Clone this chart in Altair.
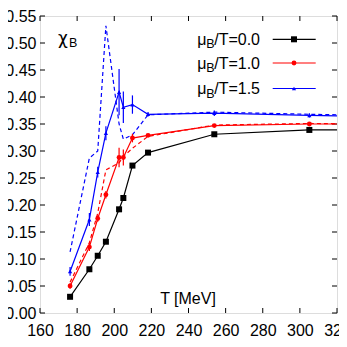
import altair as alt
import pandas as pd

# ---- data ----
T = [176.2, 186.6, 191.1, 195.5, 202.6, 204.9, 209.8, 218.2, 253.9, 305.1, 340.0]
chi_mu00 = [0.030, 0.081, 0.106, 0.132, 0.192, 0.213, 0.273, 0.297, 0.331, 0.339, 0.339]
err_mu00 = [0.002, 0.002, 0.002, 0.002, 0.003, 0.003, 0.003, 0.002, 0.002, 0.002, 0.002]
chi_mu10 = [0.050, 0.122, 0.175, 0.219, 0.288, 0.288, 0.324, 0.329, 0.347, 0.350, 0.350]
err_mu10 = [0.005, 0.007, 0.006, 0.007, 0.018, 0.015, 0.008, 0.003, 0.003, 0.003, 0.003]
chi_mu15 = [0.077, 0.173, 0.261, 0.333, 0.409, 0.381, 0.386, 0.368, 0.370, 0.366, 0.364]
err_mu15 = [0.008, 0.012, 0.010, 0.013, 0.043, 0.029, 0.017, 0.004, 0.005, 0.004, 0.004]
dash_mu10 = [0.057, 0.130, 0.185, 0.265, 0.278, 0.290, 0.305, 0.327, 0.348, 0.351, 0.350]
dash_mu15 = [0.113, 0.287, 0.300, 0.532, 0.350, 0.322, 0.330, 0.367, 0.372, 0.368, 0.366]

mu_labels = ["0.0", "1.0", "1.5"]
colors = ["#000000", "#ff0000", "#0000ff"]
shapes = ["square", "circle", "triangle-up"]
sizes = [36, 24, 18]

x_ticks = [160, 180, 200, 220, 240, 260, 280, 300, 320]
y_ticks = [0.00, 0.05, 0.10, 0.15, 0.20, 0.25, 0.30, 0.35, 0.40, 0.45, 0.50, 0.55]

FONT = "Liberation Sans"
W = 297
H = 297

xs = alt.Scale(domain=[160, 320], nice=False, zero=False)
ys = alt.Scale(domain=[0, 0.55], nice=False, zero=False)

x_axis = alt.Axis(values=x_ticks, format="d", labelFontSize=16, labelFont=FONT,
                  labelColor="black", ticks=False, domain=False, grid=False,
                  labelPadding=9, labelFlush=False, labelOverlap=False, title=None)
y_axis = alt.Axis(values=y_ticks, format=".2f", labelFontSize=16, labelFont=FONT,
                  labelColor="black", ticks=False, domain=False, grid=False,
                  labelPadding=4, labelFlush=False, labelOverlap=False, title=None)


def X(field):
    return alt.X(field, scale=xs, axis=x_axis, title=None)


def Y(field):
    return alt.Y(field, scale=ys, axis=y_axis, title=None)


series = [chi_mu00, chi_mu10, chi_mu15]
errs = [err_mu00, err_mu10, err_mu15]
dashed = [None, dash_mu10, dash_mu15]

layers = []

# inward ticks
xt = pd.DataFrame({"T": x_ticks})
yt = pd.DataFrame({"v": y_ticks})
for y0, y1 in [(H, H - 5), (0, 5)]:
    layers.append(alt.Chart(xt).mark_rule(color="black", strokeWidth=1).encode(
        x=X("T:Q"), y=alt.value(y0), y2=alt.value(y1)))
for x0, x1 in [(0, 5), (W, W - 5)]:
    layers.append(alt.Chart(yt).mark_rule(color="black", strokeWidth=1).encode(
        y=Y("v:Q"), x=alt.value(x0), x2=alt.value(x1)))

# dashed lines
for i in [1, 2]:
    df = pd.DataFrame({"T": T, "v": dashed[i]})
    layers.append(alt.Chart(df).mark_line(color=colors[i], strokeWidth=1.2,
                                          strokeDash=[4, 3], clip=True).encode(
        x=X("T:Q"), y=Y("v:Q")))

# solid series with error bars and markers
for i in range(3):
    df = pd.DataFrame({"T": T, "v": series[i], "e": errs[i]})
    df["lo"] = df["v"] - df["e"]
    df["hi"] = df["v"] + df["e"]
    layers.append(alt.Chart(df).mark_line(color=colors[i], strokeWidth=1.2, clip=True).encode(
        x=X("T:Q"), y=Y("v:Q")))
    layers.append(alt.Chart(df).mark_rule(color=colors[i], strokeWidth=1.2, clip=True).encode(
        x=X("T:Q"), y=Y("lo:Q"), y2="hi:Q"))
    layers.append(alt.Chart(df).mark_point(shape=shapes[i], filled=True, color=colors[i],
                                           size=sizes[i], opacity=1, clip=True).encode(
        x=X("T:Q"), y=Y("v:Q")))

# legend
one = pd.DataFrame({"a": [0]})
row_y = [23.3, 47.0, 72.5]
for i in range(3):
    ry = row_y[i]
    layers.append(alt.Chart(one).mark_rule(color=colors[i], strokeWidth=1.2).encode(
        x=alt.value(232.7), x2=alt.value(275.7), y=alt.value(ry)))
    layers.append(alt.Chart(one).mark_point(shape=shapes[i], filled=True, color=colors[i],
                                            size=sizes[i], opacity=1).encode(
        x=alt.value(254), y=alt.value(ry)))
    layers.append(alt.Chart(one).mark_text(text="/T=" + mu_labels[i], align="right",
                                           baseline="alphabetic", font=FONT, fontSize=16,
                                           color="black").encode(
        x=alt.value(220), y=alt.value(ry + 5.5)))
    layers.append(alt.Chart(one).mark_text(text="B", align="right", baseline="alphabetic",
                                           font=FONT, fontSize=12.5, color="black").encode(
        x=alt.value(174.5), y=alt.value(ry + 9)))
    layers.append(alt.Chart(one).mark_text(text="μ", align="right", baseline="alphabetic",
                                           font=FONT, fontSize=16, color="black").encode(
        x=alt.value(166.5), y=alt.value(ry + 5.5)))

# chi_B label
layers.append(alt.Chart(one).mark_text(text="χ", align="left", baseline="alphabetic",
                                       font="DejaVu Sans", fontSize=17, color="black").encode(
    x=alt.value(18), y=alt.value(28)))
layers.append(alt.Chart(one).mark_text(text="B", align="left", baseline="alphabetic",
                                       font=FONT, fontSize=12.5, color="black").encode(
    x=alt.value(29), y=alt.value(31)))

# x title inside plot
layers.append(alt.Chart(one).mark_text(text="T [MeV]", align="center", baseline="alphabetic",
                                       font=FONT, fontSize=16, color="black").encode(
    x=alt.value(148), y=alt.value(287.5)))

chart = alt.layer(*layers).properties(
    width=W, height=H,
    autosize=alt.AutoSizeParams(type="none"),
    padding={"left": 32, "top": 8, "right": 2, "bottom": 24},
).configure_view(stroke="black", strokeWidth=1).configure(background="white")

chart.save("out.html", embed_options={"renderer": "svg", "actions": False})
